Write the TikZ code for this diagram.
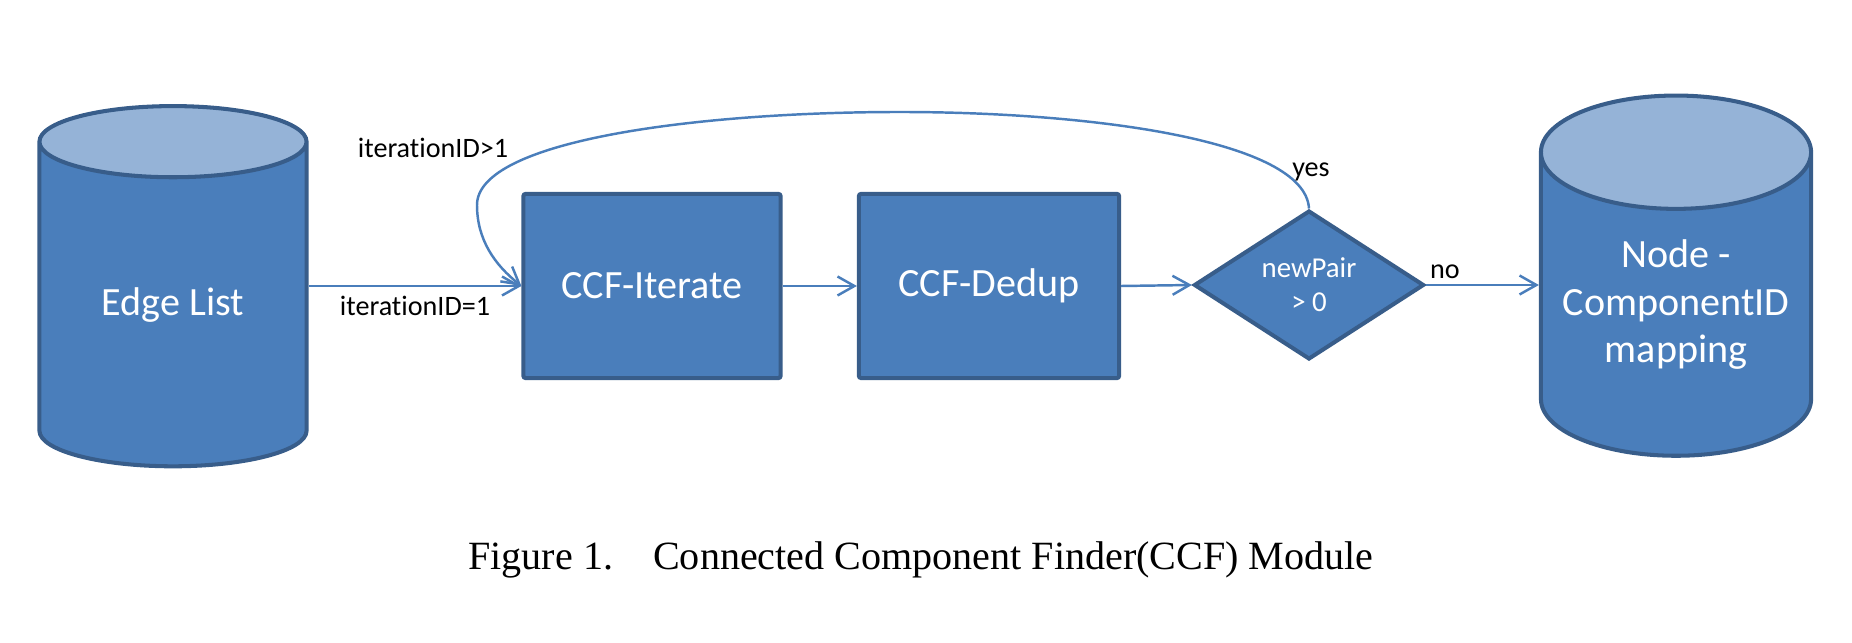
\documentclass[tikz,border=0pt]{standalone}
\usepackage{fontspec}
\setmainfont{Liberation Serif}
\newfontfamily\calibri[Ligatures={NoCommon}]{Carlito}
\usetikzlibrary{shapes.geometric,arrows.meta,calc}

\definecolor{boxblue}{HTML}{4A7EBB}
\definecolor{boxline}{HTML}{385D8A}
\definecolor{captop}{HTML}{95B3D7}
\definecolor{flowblue}{HTML}{4A7EBB}

\tikzset{
	block/.style={draw=boxline, fill=boxblue, line width=1.15pt, rounded corners=0.6pt, text=white, inner sep=0pt, font=\calibri\fontsize{11.4}{13.2}\selectfont},
	store/.style={cylinder, shape border rotate=90, aspect=0.5, draw=boxline, line width=1.15pt, cylinder uses custom fill, cylinder body fill=boxblue, cylinder end fill=captop, text=white, align=center, inner sep=0pt, minimum width=2.67cm, minimum height=3.60cm, font=\calibri\fontsize{11.4}{13.5}\selectfont},
	test/.style={diamond, draw=boxline, fill=boxblue, line width=1.15pt, text=white, align=center, inner sep=0pt, minimum width=2.30cm, minimum height=1.25cm, font=\calibri\fontsize{8.2}{9.7}\selectfont},
	flow/.style={draw=flowblue, line width=0.7pt, -{Straight Barb[length=4.8pt,width=5.4pt]}},
	lbl/.style={font=\calibri\fontsize{8}{9.6}\selectfont, inner sep=1pt}
}

\begin{document}
\begin{tikzpicture}[x=0.01cm,y=-0.01cm]
			\useasboundingbox (0,0) rectangle (1852,643);
			%\draw[help lines,step=100] (0,0) grid (1852,643);
			\node[store] (edges) at (173,305) {Edge List};
			\node[block, minimum width=2.57cm, minimum height=1.84cm] (iter) at (652,286) {CCF-Iterate};
			\node[block, minimum width=2.60cm, minimum height=1.84cm] (dedup) at (989,286) {CCF-Dedup};
			\node[test] (dia) at (1309,285) {newPair\\> 0};
			\node[store, minimum width=2.70cm] (mapping) at (1676,305) {Node -\\ComponentID\\mapping};
			\coordinate (looptop) at (900,112);
			\coordinate (loopleft) at (477,205);
			\draw[flow] (iter.west -| edges.east) -- node[lbl, midway, below=1.5pt] (eqone) {iterationID=1} (iter.west);
			\draw[flow] (iter.east) -- (dedup.west);
			\draw[flow] (dedup.east) -- (dia.west);
			\draw[flow] (dia.east) -- (dia.east -| mapping.west);
			\draw[flow] (dia.north) .. controls (1305,140) and (1090,112) .. (looptop)
			          .. controls (700,112) and (477,140) .. (loopleft)
			          .. controls (477,240) and (495,265) .. (iter.west);
			\node[lbl] (gtone) at (433,148) {iterationID>1};
			\node[lbl] (yes) at (1311,172) {yes};
			\node[lbl] (no) at (1445,272) {no};
			\node[anchor=base, font=\fontsize{11.4}{13.7}\selectfont] (caption) at (921,569) {Figure 1.\hspace{1.0em}Connected Component Finder(CCF) Module};
\end{tikzpicture}
\end{document}
